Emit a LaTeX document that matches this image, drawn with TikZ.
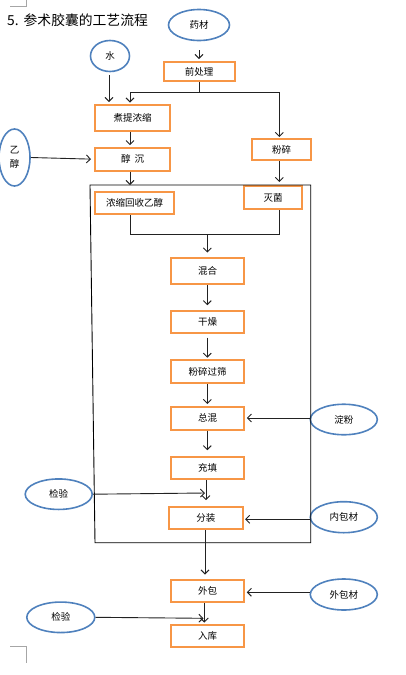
\documentclass[tikz,border=0pt]{standalone}
\usepackage{fontspec}
\setmainfont{Noto Sans CJK SC}
\usetikzlibrary{shapes.geometric,arrows.meta}
\definecolor{boxorange}{HTML}{F79646}
\definecolor{ellblue}{HTML}{4F81BD}
\definecolor{linegray}{HTML}{222222}
\begin{document}
\begin{tikzpicture}[x=1pt,y=-1pt,
  every node/.style={font=\fontsize{9.5}{11}\selectfont, inner sep=0pt},
  stepbox/.style={draw=boxorange, line width=2pt, minimum width=73.6pt, minimum height=22.5pt},
  ell/.style={draw=ellblue, line width=1.6pt, ellipse, minimum width=67pt, minimum height=30.5pt},
  conn/.style={draw=linegray, line width=0.9pt},
  arr/.style={conn, -{Straight Barb[length=4pt,width=8pt]}}]
\useasboundingbox (0,0) rectangle (405,675);
% corner marks
\draw[gray!70, line width=0.6pt] (10,6) -- (26,6) -- (26,0);
\draw[gray!70, line width=0.6pt] (10,646) -- (26,646) -- (26,663);
% title
\node[anchor=west, font=\fontsize{13.8}{16}\selectfont] (title) at (7,20) {5.\hspace{5pt}参术胶囊的工艺流程};
% ellipses
\node[ell, minimum width=61pt, minimum height=31pt] (yaocai) at (199,25) {药材};
\node[ell, minimum width=39pt, minimum height=31pt] (shui) at (110,56) {水};
\node[ell, minimum width=31pt, minimum height=57pt, align=center, font=\fontsize{9.5}{14}\selectfont] (yichun) at (14.5,157.5) {乙\\醇};
\node[ell] (dianfen) at (343.8,419.5) {淀粉};
\node[ell] (jianyanA) at (58.7,494.2) {检验};
\node[ell, minimum height=31pt] (neibao) at (343.8,517.2) {内包材};
\node[ell, minimum height=31pt] (waibaocai) at (343.8,594.5) {外包材};
\node[ell, minimum width=68pt] (jianyanB) at (60.8,617.3) {检验};
% boxes
\node[stepbox, minimum width=71pt, minimum height=19pt] (qian) at (199,71.5) {前处理};
\node[stepbox, minimum width=75pt, minimum height=26pt] (zhuti) at (132.5,118) {煮提浓缩};
\node[stepbox, minimum width=75pt, minimum height=23pt] (chunchen) at (132.5,159.2) {醇\hspace{4pt}沉};
\node[stepbox, minimum width=59pt, minimum height=21pt] (fensui) at (281.5,149.5) {粉碎};
\node[stepbox, minimum width=79pt, minimum height=22pt] (nongsuo) at (134.5,203) {浓缩回收乙醇};
\node[stepbox, minimum width=58pt, minimum height=23pt] (miejun) at (273,197.5) {灭菌};
\node[stepbox, minimum height=26pt] (hunhe) at (207.5,271) {混合};
\node[stepbox, minimum height=22pt] (ganzao) at (207.5,321.7) {干燥};
\node[stepbox, minimum height=23pt] (guoshai) at (207.5,371.7) {粉碎过筛};
\node[stepbox, minimum height=23pt] (zonghun) at (207.5,418) {总混};
\node[stepbox, minimum height=22.6pt] (chongtian) at (207.5,468) {充填};
\node[stepbox, minimum height=22.6pt] (fenzhuang) at (205.8,518) {分装};
\node[stepbox, minimum height=22pt] (waibao) at (207.5,591) {外包};
\node[stepbox, minimum height=22.3pt] (ruku) at (207.5,636.2) {入库};
% helper coordinates
\coordinate (sp) at (199,92);
\coordinate (spL) at (130,92);
\coordinate (spR) at (279.3,92);
\coordinate (rtop) at (130,185);
\coordinate (mL) at (130,234);
\coordinate (mR) at (279.3,234);
\coordinate (mC) at (207.3,234);
\coordinate (tA) at (205,493);
\coordinate (tB) at (203.5,618.3);
% big frame
\draw[line width=0.9pt] (90,185) -- (310.7,185) -- (310.7,542.7) -- (95,542.7) -- cycle;
% connectors
\draw[arr, shorten <=9pt, shorten >=2pt] (yaocai) -- (qian);
\draw[arr, shorten <=2.5pt, shorten >=2pt] (shui.south -| 109,0) -- (zhuti.north -| 109,0);
\draw[conn] (qian.south) -- (sp);
\draw[conn] (spL) -- (spR);
\draw[arr, shorten >=1.5pt] (spL) -- (spL |- zhuti.north);
\draw[arr, shorten >=1pt] (spR) -- (spR |- fensui.north);
\draw[arr, shorten >=1.5pt] (zhuti.south -| spL) -- (chunchen.north -| spL);
\draw[arr, shorten >=3pt] (yichun.east) -- (chunchen.west);
\draw[arr] (chunchen.south -| spL) -- (rtop);
\draw[arr, shorten >=3pt] (fensui.south -| spR) -- (miejun.north -| spR);
\draw[conn] (nongsuo.south -| mL) -- (mL) -- (mR) -- (miejun.south -| mR);
\draw[arr, shorten >=4.5pt] (mC) -- (mC |- hunhe.north);
\draw[arr, shorten >=4.5pt] (hunhe.south -| mC) -- (ganzao.north -| mC);
\draw[arr, shorten <=4pt, shorten >=1.5pt] (ganzao.south -| mC) -- (guoshai.north -| mC);
\draw[arr, shorten >=1.5pt] (guoshai.south -| mC) -- (zonghun.north -| mC);
\draw[arr, shorten >=1.5pt] (dianfen.west |- zonghun.east) -- (zonghun.east);
\draw[arr, shorten >=5.5pt] (zonghun.south -| mC) -- (chongtian.north -| mC);
\draw[arr, shorten >=5.5pt] (chongtian.south -| 206,0) -- (fenzhuang.north -| 206,0);
\draw[arr] (jianyanA.east) -- (tA);
\draw[arr, shorten >=1.5pt] (neibao.west |- 0,519.3) -- (fenzhuang.east |- 0,519.3);
\draw[arr, shorten >=4.5pt] (fenzhuang.south -| 205,0) -- (waibao.north -| 205,0);
\draw[arr, shorten >=1.5pt] (waibaocai.west |- 0,592.3) -- (waibao.east |- 0,592.3);
\draw[arr, shorten >=1.5pt] (waibao.south -| 204.3,0) -- (ruku.north -| 204.3,0);
\draw[arr] (jianyanB.east) -- (tB);
\end{tikzpicture}
\end{document}
